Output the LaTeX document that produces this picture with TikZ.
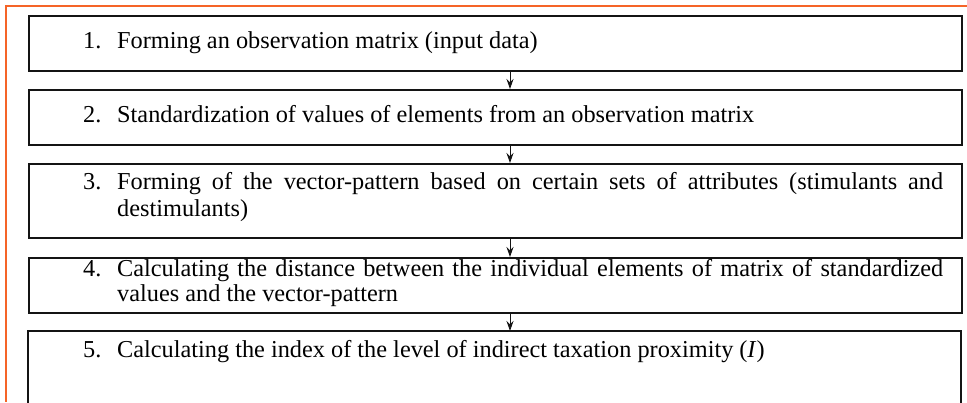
\documentclass[tikz,border=0pt]{standalone}
\usepackage{fontspec}
\setmainfont{Liberation Serif}
\usetikzlibrary{arrows.meta}
\definecolor{frameorange}{RGB}{245,100,40}
\definecolor{boxline}{RGB}{20,20,20}
\begin{document}
\begin{tikzpicture}[x=1pt,y=-1pt,
  stepbox/.style={draw=boxline, line width=1.6pt, minimum width=933pt, inner sep=0pt, anchor=north west},
  numlab/.style={anchor=base west, inner sep=0pt, font=\fontsize{24.3}{25}\selectfont},
  bodytext/.style={anchor=base west, inner sep=0pt, text width=826pt, align=justify, font=\fontsize{24.3}{25}\selectfont},
  flow/.style={-{Stealth[length=10pt,width=7pt]}, line width=1pt, draw=boxline}]
\useasboundingbox (0,0) rectangle (967,402);
\fill[frameorange] (4.5,4.5) rectangle (967,6.8);
\fill[frameorange] (4.5,4.5) rectangle (6.8,402);
% boxes
\node[stepbox, minimum height=55pt] (b1) at (28,15) {};
\node[stepbox, minimum height=55pt] (b2) at (28,89) {};
\node[stepbox, minimum height=74pt] (b3) at (28,163) {};
\node[stepbox, minimum height=55pt] (b4) at (28,257) {};
\coordinate (b5sw) at (28,405);
\coordinate (b5se) at (961,405);
\draw[boxline, line width=1.6pt] (b5sw) |- (510,331) coordinate (b5n) -| (b5se);
% texts
\node[numlab] (n1) at (83,48) {1.};
\node[bodytext] (t1) at (117,48) {Forming an observation matrix (input data)};
\node[numlab] (n2) at (83,122) {2.};
\node[bodytext] (t2) at (117,122) {Standardization of values of elements from an observation matrix};
\node[numlab] (n3) at (83,189) {3.};
\node[bodytext, font=\fontsize{24.3}{27.5}\selectfont] (t3) at (117,189) {Forming of the vector-pattern based on certain sets of attributes (stimulants and\linebreak destimulants)};
\node[numlab] (n4) at (83,276) {4.};
\node[bodytext] (t4) at (117,276) {Calculating the distance between the individual elements of matrix of standardized\linebreak values and the vector-pattern};
\node[numlab] (n5) at (83,357) {5.};
\node[bodytext] (t5) at (117,357) {Calculating the index of the level of indirect taxation proximity (\textit{I})};
% connectors
\draw[flow] (b1.south -| 510,0) -- (b2.north -| 510,0);
\draw[flow] (b2.south -| 510,0) -- (b3.north -| 510,0);
\draw[flow] (b3.south -| 510,0) -- (b4.north -| 510,0);
\draw[flow] (b4.south -| 510,0) -- (b5n);
\end{tikzpicture}
\end{document}
